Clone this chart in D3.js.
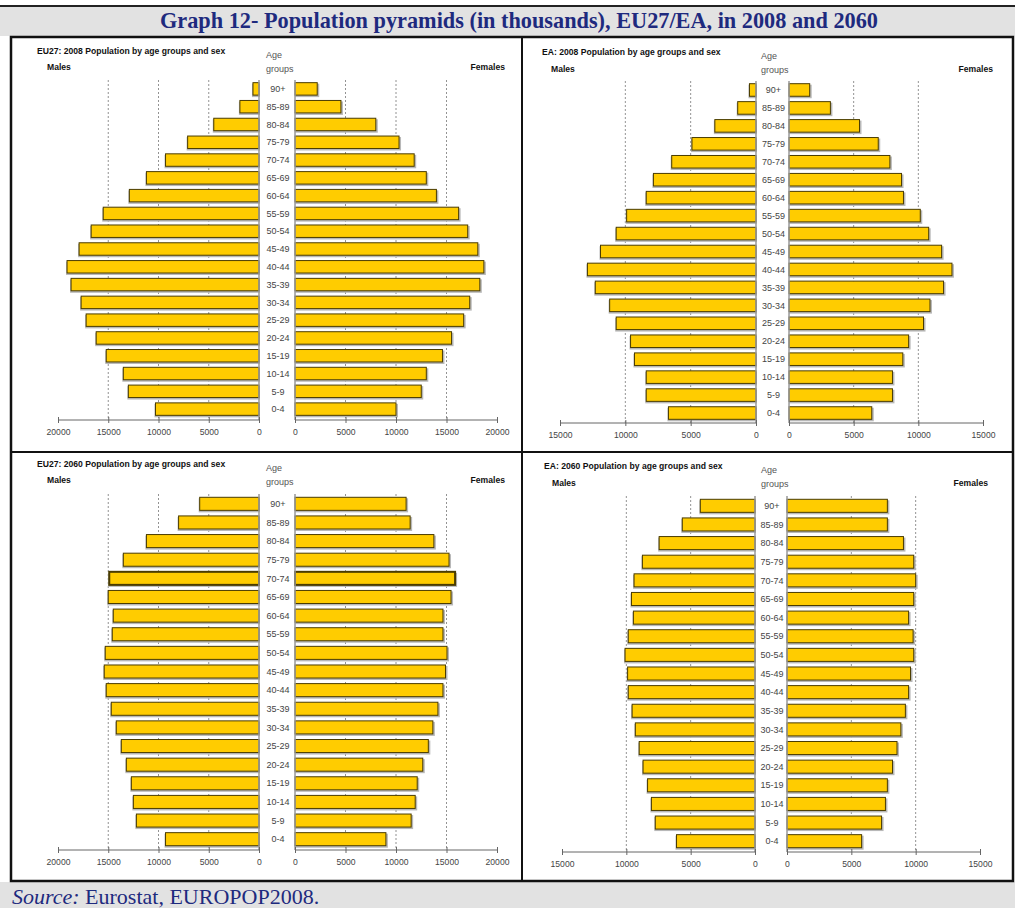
<!DOCTYPE html>
<html><head><meta charset="utf-8">
<script src="https://cdn.jsdelivr.net/npm/d3@7"></script>
<style>body{margin:0;background:#fff}svg{display:block}</style>
</head><body><svg id="c" width="1015" height="908"></svg>
<script>
// ---------- data ----------
const ageGroups = ["0-4","5-9","10-14","15-19","20-24","25-29","30-34","35-39","40-44","45-49","50-54","55-59","60-64","65-69","70-74","75-79","80-84","85-89","90+"];

const eu27_2008_males   = [10300,13000,13500,15200,16200,17200,17700,18700,19100,17900,16700,15500,12900,11200,9300,7100,4500,1900,600];
const eu27_2008_females = [10000,12500,13000,14600,15500,16700,17300,18300,18700,18100,17100,16200,14000,13000,11800,10300,8000,4550,2200];

const ea_2008_males     = [6700,8400,8400,9300,9600,10700,11200,12300,12900,11900,10700,9900,8400,7850,6450,4900,3150,1400,500];
const ea_2008_females   = [6400,8000,8000,8800,9250,10400,10900,11950,12600,11800,10800,10150,8850,8700,7800,6900,5450,3200,1600];

const eu27_2060_males   = [9300,12200,12500,12700,13200,13700,14200,14700,15200,15400,15300,14600,14500,15000,14900,13500,11200,8000,5900];
const eu27_2060_females = [9000,11500,11900,12100,12650,13200,13650,14150,14650,14900,15050,14650,14650,15450,15850,15250,13750,11400,11000];

const ea_2060_males     = [6100,7750,8050,8350,8700,9000,9300,9550,9850,9900,10100,9850,9450,9600,9400,8750,7450,5650,4250];
const ea_2060_females   = [5800,7350,7650,7800,8200,8550,8850,9200,9450,9600,9850,9800,9450,9850,10000,9850,9050,7800,7800];

const eu27Ticks = [0,5000,10000,15000,20000];
const eaTicks   = [0,5000,10000,15000];

const chartTitle = "Graph 12- Population pyramids (in thousands), EU27/EA, in 2008 and 2060";
const panelTitles = [
  "EU27: 2008 Population by age groups and sex",
  "EA: 2008 Population by age groups and sex",
  "EU27: 2060 Population by age groups and sex",
  "EA: 2060 Population by age groups and sex"
];

// ---------- drawing ----------
const svg = d3.select("#c");
const NAVY = "#1e2a7e";
const SANS = "'Liberation Sans', Arial, sans-serif";
const SERIF = "'Liberation Serif', 'Times New Roman', serif";

// title bar
svg.append("rect").attr("x",0).attr("y",6).attr("width",1015).attr("height",30).attr("fill","#e2e2e2");
svg.append("line").attr("x1",0).attr("x2",1015).attr("y1",6).attr("y2",6).attr("stroke","#222").attr("stroke-width",2);
svg.append("text").attr("x",519).attr("y",28).attr("text-anchor","middle")
  .attr("font-family",SERIF).attr("font-weight","bold").attr("font-size",23).attr("fill",NAVY)
  .attr("textLength",718).attr("lengthAdjust","spacingAndGlyphs")
  .text(chartTitle);

// source bar
svg.append("rect").attr("x",0).attr("y",882).attr("width",1015).attr("height",26).attr("fill","#e2e2e2");
const src = svg.append("text").attr("x",12).attr("y",904).attr("font-family",SERIF).attr("font-size",22).attr("fill",NAVY);
src.append("tspan").attr("font-style","italic").text("Source:");
src.append("tspan").text(" Eurostat, EUROPOP2008.");

// frame
svg.append("rect").attr("x",11).attr("y",37).attr("width",1002).attr("height",844)
  .attr("fill","none").attr("stroke","#111").attr("stroke-width",2.5);
svg.append("line").attr("x1",522).attr("x2",522).attr("y1",37).attr("y2",881).attr("stroke","#111").attr("stroke-width",2);
svg.append("line").attr("x1",11).attr("x2",1013).attr("y1",452).attr("y2",452).attr("stroke","#111").attr("stroke-width",2);

const panels = [
  {title:panelTitles[0], males:eu27_2008_males, females:eu27_2008_females, ticks:eu27Ticks, max:20000,
   lx:[259,58], rx:[295,497], band:[80,418], axisY:420, gridTop:80, bold:null,
   titleX:37, titleY:54, malesX:47, malesY:70, femalesX:505, ageX:266, ageY:[58,72]},
  {title:panelTitles[1], males:ea_2008_males, females:ea_2008_females, ticks:eaTicks, max:15000,
   lx:[756,560], rx:[789,983], band:[81,422], axisY:423, gridTop:81, bold:null,
   titleX:542, titleY:55, malesX:551, malesY:72, femalesX:993, ageX:761, ageY:[59,73]},
  {title:panelTitles[2], males:eu27_2060_males, females:eu27_2060_females, ticks:eu27Ticks, max:20000,
   lx:[259,58], rx:[295,497], band:[494.5,848.5], axisY:850, gridTop:494, bold:"70-74",
   titleX:37, titleY:467, malesX:47, malesY:483, femalesX:505, ageX:266, ageY:[471,485]},
  {title:panelTitles[3], males:ea_2060_males, females:ea_2060_females, ticks:eaTicks, max:15000,
   lx:[755,562], rx:[787,980], band:[496.5,850.5], axisY:852, gridTop:496, bold:null,
   titleX:544, titleY:469, malesX:552, malesY:486, femalesX:988, ageX:761, ageY:[473,487]}
];

panels.forEach(p => {
  const g = svg.append("g");
  const xL = d3.scaleLinear().domain([0,p.max]).range(p.lx);
  const xR = d3.scaleLinear().domain([0,p.max]).range(p.rx);
  const y = d3.scaleBand().domain(ageGroups.slice().reverse()).range(p.band).paddingInner(0.3).paddingOuter(0.15);

  // texts
  g.append("text").attr("x",p.titleX).attr("y",p.titleY).attr("font-family",SANS).attr("font-weight","bold")
    .attr("font-size",8.6).attr("fill","#111").text(p.title);
  g.append("text").attr("x",p.malesX).attr("y",p.malesY).attr("font-family",SANS).attr("font-weight","bold")
    .attr("font-size",8.6).attr("fill","#111").text("Males");
  g.append("text").attr("x",p.femalesX).attr("y",p.malesY).attr("text-anchor","end").attr("font-family",SANS).attr("font-weight","bold")
    .attr("font-size",8.6).attr("fill","#111").text("Females");
  g.append("text").attr("x",p.ageX).attr("y",p.ageY[0]).attr("font-family",SANS).attr("font-size",9).attr("fill","#555").text("Age");
  g.append("text").attr("x",p.ageX).attr("y",p.ageY[1]).attr("font-family",SANS).attr("font-size",9).attr("fill","#555").text("groups");

  // gridlines (inner ticks, excluding 0 and max)
  const inner = p.ticks.filter(t => t > 0 && t < p.max);
  [xL, xR].forEach(x => {
    g.selectAll(null).data(inner).enter().append("line")
      .attr("x1",d=>x(d)).attr("x2",d=>x(d)).attr("y1",p.gridTop).attr("y2",p.axisY)
      .attr("stroke","#777").attr("stroke-width",0.8).attr("stroke-dasharray","2,2");
  });

  // bars
  const drawBars = (vals, x, side) => {
    const data = ageGroups.map((a,i)=>({a, v:vals[i]}));
    g.selectAll(null).data(data).enter().append("rect")
      .attr("x", d => side<0 ? x(d.v)-1 : x(0))
      .attr("y", d => y(d.a)+1)
      .attr("width", d => Math.abs(x(d.v)-x(0))+2)
      .attr("height", y.bandwidth()+1)
      .attr("fill","#b8b8b8");
    g.selectAll(null).data(data).enter().append("rect")
      .attr("x", d => Math.min(x(d.v), x(0)))
      .attr("y", d => y(d.a))
      .attr("width", d => Math.abs(x(d.v)-x(0)))
      .attr("height", y.bandwidth())
      .attr("fill","#ffcc00").attr("stroke","#4a3c00")
      .attr("stroke-width", d => d.a === p.bold ? 2 : 1);
  };
  drawBars(p.males, xL, -1);
  drawBars(p.females, xR, 1);

  // zero lines (center column borders)
  [xL(0), xR(0)].forEach(x0 => {
    g.append("line").attr("x1",x0).attr("x2",x0).attr("y1",p.gridTop).attr("y2",p.axisY)
      .attr("stroke","#999").attr("stroke-width",1.5);
  });

  // age labels
  const cx = (xL(0)+xR(0))/2 + 1;
  g.selectAll(null).data(ageGroups).enter().append("text")
    .attr("x",cx).attr("y",d=>y(d)+y.bandwidth()/2+3.2).attr("text-anchor","middle")
    .attr("font-family",SANS).attr("font-size",9).attr("fill","#444").text(d=>d);

  // axes
  const mkAxis = (x) => d3.axisBottom(x).tickValues(p.ticks).tickSize(3).tickPadding(6)
     .tickFormat(d3.format("d"));
  [xL, xR].forEach(x => {
    const ag = g.append("g").attr("transform",`translate(0,${p.axisY})`).call(mkAxis(x));
    ag.select(".domain").attr("stroke","#666").attr("d", `M${x.range()[0]},0H${x.range()[1]}`);
    ag.selectAll(".tick line").attr("stroke","#666").attr("y1",-3).attr("y2",3);
    ag.selectAll(".tick text").attr("font-family",SANS).attr("font-size",8.6).attr("fill","#444");
  });
});
</script>
</body></html>
